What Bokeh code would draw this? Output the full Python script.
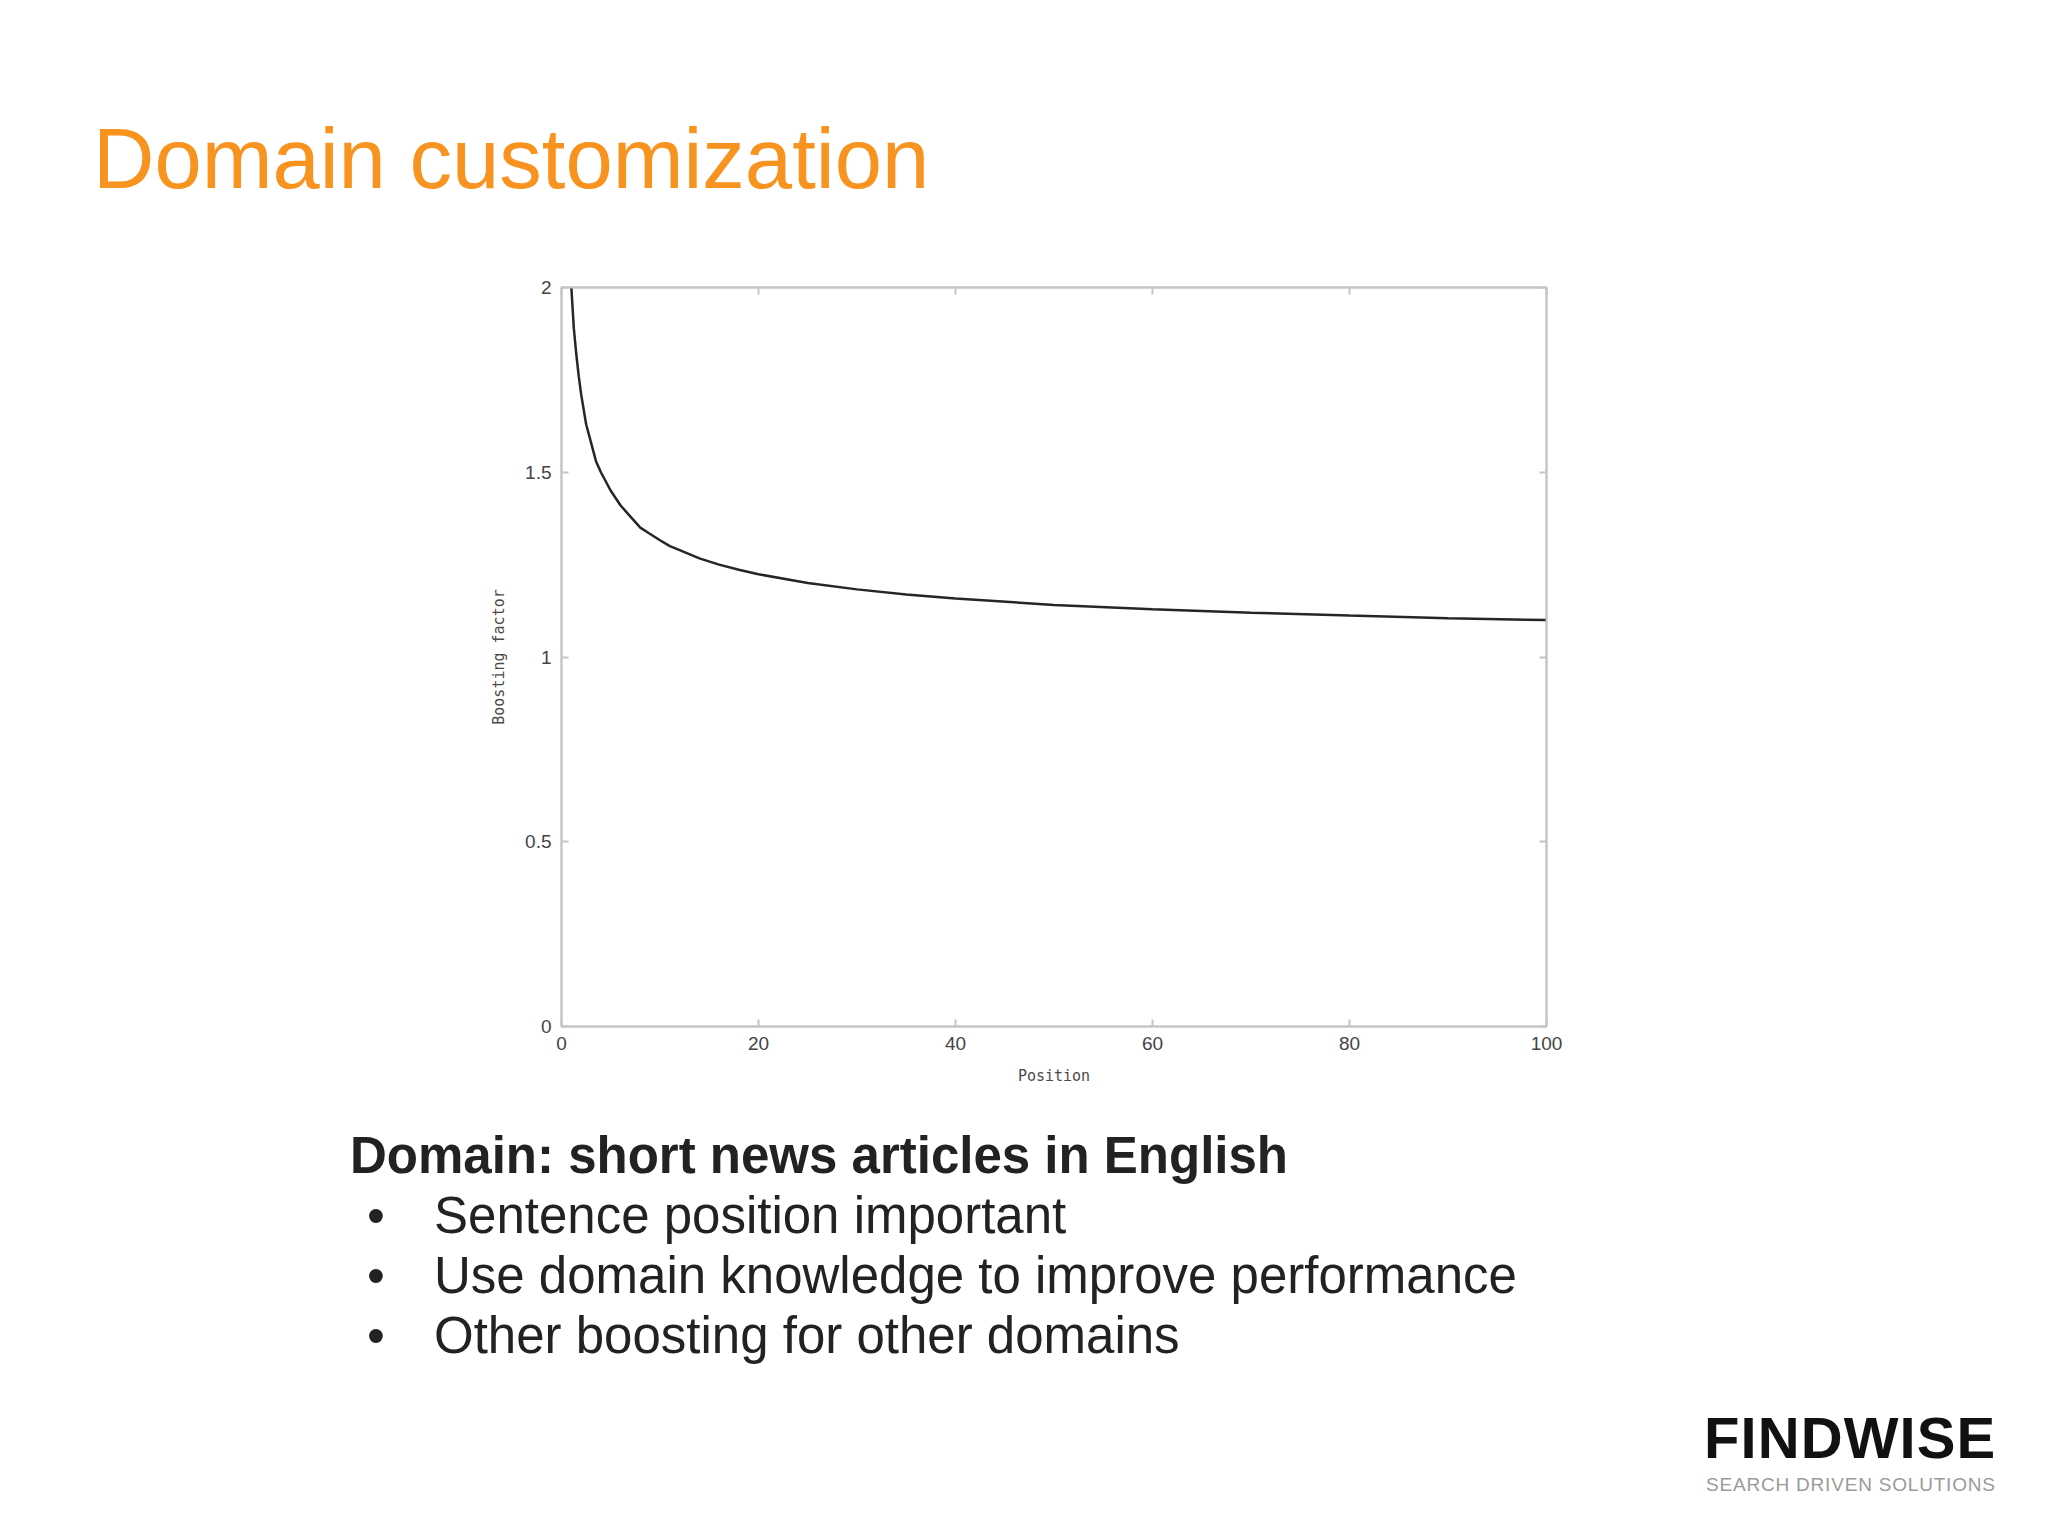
from bokeh.plotting import figure
from bokeh.models import Range1d, FixedTicker, LinearAxis, CustomJSTickFormatter, Div
from bokeh.layouts import column
from bokeh.embed import file_html
from bokeh.resources import INLINE

# ---- data ----
positions = [1, 1.25, 1.5, 1.75, 2, 2.5, 3, 3.5, 4, 5, 6, 7, 8, 9, 10, 11, 12, 14,
             16, 18, 20, 25, 30, 35, 40, 50, 60, 70, 80, 90, 100]
boost = [2.00, 1.89, 1.82, 1.76, 1.71, 1.63, 1.58, 1.53, 1.50, 1.45, 1.41, 1.38,
         1.35, 1.333, 1.316, 1.30, 1.289, 1.267, 1.25, 1.236, 1.224, 1.20, 1.183,
         1.169, 1.158, 1.141, 1.129, 1.12, 1.112, 1.105, 1.10]
x_ticks = [0, 20, 40, 60, 80, 100]
y_ticks = [0, 0.5, 1, 1.5, 2]
y_tick_labels = ["0", "0.5", "1", "1.5", "2"]
x_title = "Position"
y_title = "Boosting factor"
slide_title = "Domain customization"
heading = "Domain: short news articles in English"
bullets = ["Sentence position important",
           "Use domain knowledge to improve performance",
           "Other boosting for other domains"]
logo_main = "FINDWISE"
logo_sub = "SEARCH DRIVEN SOLUTIONS"

W = 2032
TOP_H = 240            # title band
CHART_H = 870          # chart band (page y 240..1110)
BOT_H = 1520 - TOP_H - CHART_H
FL, FR, FT, FB = 561, 1546, 287, 1026   # frame edges in page px
FONT = "Liberation Sans"
ASC = 0.8465           # baseline offset for line-height 1 (Liberation Sans)


def span(text, x, baseline, size, color, weight="normal", spacing=0.0):
    top = baseline - ASC * size
    return ('<div style="position:absolute;left:%dpx;top:%.1fpx;white-space:nowrap;'
            'font-family:\'%s\';font-size:%dpx;line-height:1;color:%s;font-weight:%s;'
            'letter-spacing:%.2fpx;">%s</div>'
            % (x, top, FONT, size, color, weight, spacing, text))


def band(h, parts):
    html = ('<div style="position:relative;width:%dpx;height:%dpx;background:white;">%s</div>'
            % (W, h, "".join(parts)))
    return Div(text=html, width=W, height=h, margin=0)


# ---- title band ----
top_div = band(TOP_H, [span(slide_title, 93, 188, 85, "#F7931E")])

# ---- chart ----
p = figure(width=W, height=CHART_H, x_range=Range1d(0, 100), y_range=Range1d(0, 2),
           output_backend="svg", toolbar_location=None,
           min_border_left=FL, min_border_right=W - FR,
           min_border_top=FT - TOP_H, min_border_bottom=TOP_H + CHART_H - FB,
           background_fill_color="white", border_fill_color="white")
p.xgrid.visible = False
p.ygrid.visible = False
p.outline_line_color = "#c6c6c6"
p.outline_line_width = 2

frame_col = "#c6c6c6"

for ax in p.xaxis:
    ax.ticker = FixedTicker(ticks=x_ticks)
    ax.axis_label = x_title
for ax in p.yaxis:
    ax.ticker = FixedTicker(ticks=y_ticks)
    ax.axis_label = y_title
    ax.major_label_overrides = {t: l for t, l in zip(y_ticks, y_tick_labels)}
    ax.major_label_orientation = "horizontal"

for ax in list(p.xaxis) + list(p.yaxis):
    ax.axis_line_color = frame_col
    ax.axis_line_width = 2
    ax.major_tick_line_color = frame_col
    ax.major_tick_line_width = 2
    ax.major_tick_in = 7
    ax.major_tick_out = 0
    ax.minor_tick_line_color = None
    ax.major_label_text_font = FONT
    ax.major_label_text_font_size = "19px"
    ax.major_label_text_color = "#444444"
    ax.major_label_standoff = 10
    ax.axis_label_text_font = "DejaVu Sans Mono"
    ax.axis_label_text_font_size = "15px"
    ax.axis_label_text_font_style = "normal"
    ax.axis_label_text_color = "#4a4a4a"
    ax.axis_label_standoff = 14

# mirrored ticks on top and right
blank = CustomJSTickFormatter(code="return ''")
top_ax = LinearAxis(ticker=FixedTicker(ticks=x_ticks), formatter=blank)
right_ax = LinearAxis(ticker=FixedTicker(ticks=y_ticks), formatter=blank)
for ax in (top_ax, right_ax):
    ax.axis_line_color = frame_col
    ax.axis_line_width = 2
    ax.major_tick_line_color = frame_col
    ax.major_tick_line_width = 2
    ax.major_tick_in = 7
    ax.major_tick_out = 0
    ax.minor_tick_line_color = None
p.add_layout(top_ax, "above")
p.add_layout(right_ax, "right")

p.line(positions, boost, line_color="#262626", line_width=2.5)

# ---- bullet / logo band (page y offset TOP_H + CHART_H) ----
oy = TOP_H + CHART_H
parts = [span(heading, 350, 1173 - oy, 51, "#222222", "bold")]
for i, b in enumerate(bullets):
    base = 1233 + 60 * i - oy
    parts.append(span("&#8226;", 367, base, 51, "#222222"))
    parts.append(span(b, 434, base, 51, "#222222"))
parts.append(span(logo_main, 1704, 1458 - oy, 58, "#111111", "bold", 1.1))
parts.append(span(logo_sub, 1706, 1491 - oy, 19, "#9a9a9a", "normal", 0.8))
bot_div = band(BOT_H, parts)

layout = column(top_div, p, bot_div, spacing=0)
open("out.html", "w").write(file_html(layout, INLINE))
